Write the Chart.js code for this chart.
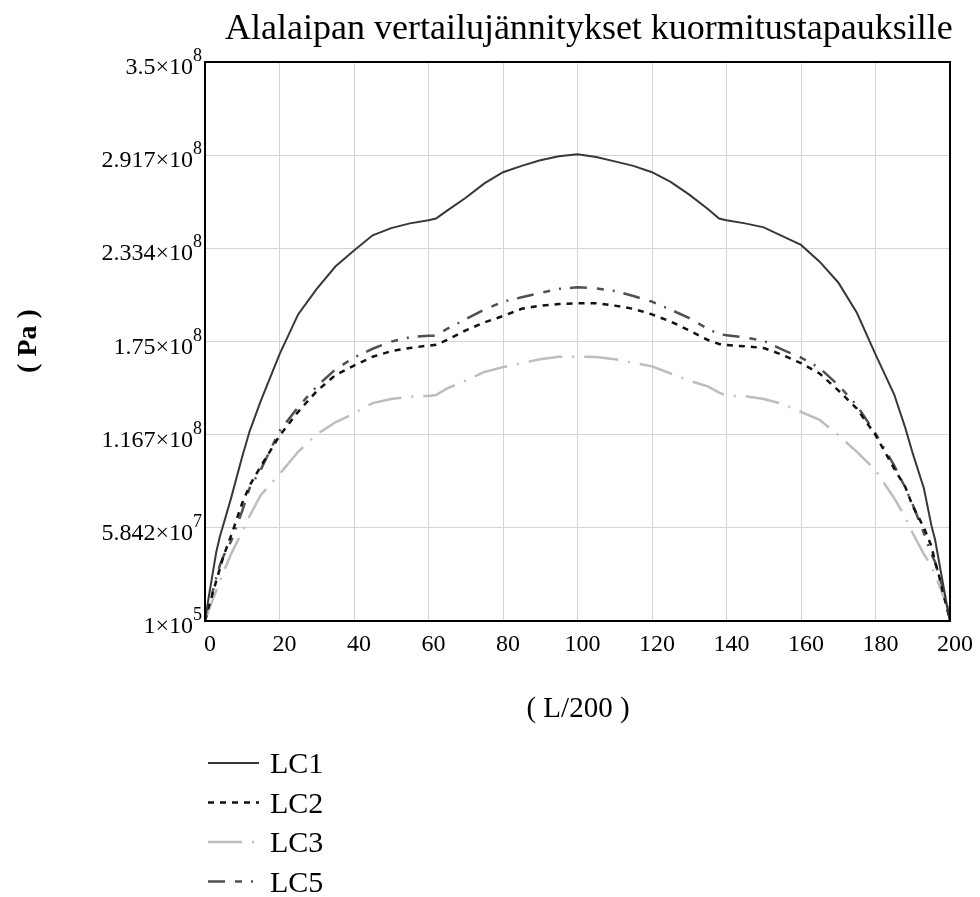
<!DOCTYPE html>
<html>
<head>
<meta charset="utf-8">
<script src="https://cdn.jsdelivr.net/npm/chart.js"></script>
<style>
  body { margin: 0; background: #fff; }
  #wrap { width: 980px; height: 897px; }
</style>
</head>
<body>
<div id="wrap"><canvas id="chart" width="980" height="897"></canvas></div>
<script>
// position along the beam, in L/200 steps
const xs = [0, 1, 2, 3, 4, 5, 7, 10, 12, 15, 20, 25, 30, 35, 40, 45, 50, 55, 60, 62,
  65, 70, 75, 80, 85, 90, 95, 100, 105, 110, 115, 120, 125, 130, 135, 138,
  140, 145, 150, 155, 160, 165, 170, 175, 180, 185, 188, 190, 193, 195, 196, 197, 198, 199, 200];

// von Mises stresses of the bottom flange, in 1e8 Pa
const lc1 = [0.001, 0.15, 0.29, 0.43, 0.53, 0.61, 0.77, 1.03, 1.19, 1.38, 1.67, 1.92, 2.08, 2.22, 2.32, 2.415, 2.46, 2.49, 2.51, 2.52,
  2.57, 2.65, 2.74, 2.81, 2.85, 2.885, 2.91, 2.923, 2.905, 2.878, 2.85, 2.81, 2.75, 2.67, 2.58, 2.52,
  2.51, 2.49, 2.465, 2.41, 2.355, 2.25, 2.12, 1.93, 1.67, 1.42, 1.21, 1.05, 0.83, 0.60, 0.51, 0.38, 0.25, 0.12, 0.001];
const lc2 = [0.001, 0.09, 0.17, 0.25, 0.33, 0.41, 0.535, 0.74, 0.85, 0.97, 1.16, 1.31, 1.44, 1.54, 1.60, 1.655, 1.69, 1.71, 1.725, 1.73,
  1.76, 1.82, 1.87, 1.91, 1.955, 1.975, 1.985, 1.99, 1.99, 1.975, 1.955, 1.92, 1.875, 1.82, 1.76, 1.735,
  1.728, 1.72, 1.71, 1.667, 1.615, 1.55, 1.445, 1.33, 1.165, 0.955, 0.84, 0.72, 0.585, 0.47, 0.37, 0.29, 0.19, 0.10, 0.001];
const lc3 = [0.001, 0.07, 0.13, 0.19, 0.25, 0.31, 0.42, 0.56, 0.66, 0.79, 0.92, 1.06, 1.17, 1.245, 1.30, 1.365, 1.39, 1.405, 1.41, 1.415,
  1.457, 1.505, 1.56, 1.59, 1.615, 1.64, 1.655, 1.656, 1.653, 1.64, 1.617, 1.595, 1.55, 1.505, 1.47, 1.43,
  1.412, 1.408, 1.39, 1.36, 1.31, 1.26, 1.165, 1.06, 0.945, 0.77, 0.65, 0.55, 0.42, 0.345, 0.29, 0.23, 0.17, 0.11, 0.001];
const lc5 = [0.001, 0.09, 0.18, 0.27, 0.35, 0.41, 0.50, 0.69, 0.835, 0.95, 1.19, 1.34, 1.47, 1.575, 1.65, 1.705, 1.75, 1.777, 1.787, 1.787,
  1.83, 1.89, 1.95, 2.0, 2.027, 2.055, 2.08, 2.09, 2.083, 2.067, 2.035, 2.0, 1.95, 1.897, 1.83, 1.797,
  1.79, 1.775, 1.755, 1.70, 1.65, 1.585, 1.478, 1.35, 1.175, 0.975, 0.835, 0.73, 0.55, 0.42, 0.37, 0.29, 0.21, 0.13, 0.001];

// y axis ticks (Pa) and their labels as [mantissa, exponent]
const yTicks = [1e5, 5.842e7, 1.167e8, 1.75e8, 2.334e8, 2.917e8, 3.5e8];
const yTickLabels = [['1', '5'], ['5.842', '7'], ['1.167', '8'], ['1.75', '8'], ['2.334', '8'], ['2.917', '8'], ['3.5', '8']];

const seriesNames = ['LC1', 'LC2', 'LC3', 'LC5'];
const titleText = 'Alalaipan vertailujännitykset kuormitustapauksille';

const SERIF = '"Liberation Serif", "Times New Roman", serif';
const toPoints = vals => xs.map((x, i) => ({ x: x, y: vals[i] * 1e8 }));

const mathcadText = {
  id: 'mathcadText',
  afterDraw(chart) {
    const ctx = chart.ctx;
    const a = chart.chartArea;
    const y = chart.scales.y;
    ctx.save();

    // plot frame
    ctx.strokeStyle = '#000';
    ctx.lineWidth = 2;
    ctx.setLineDash([]);
    ctx.strokeRect(a.left, a.top, a.right - a.left, a.bottom - a.top);

    ctx.fillStyle = '#000';
    ctx.textBaseline = 'alphabetic';

    // y tick labels with superscript exponent
    yTicks.forEach((v, i) => {
      const py = y.getPixelForValue(v);
      const [m, e] = yTickLabels[i];
      ctx.textAlign = 'right';
      ctx.font = '18px ' + SERIF;
      const ew = ctx.measureText(e).width;
      ctx.fillText(e, a.left - 3, py - 1);
      ctx.font = '24px ' + SERIF;
      ctx.fillText(m + '\u00d710', a.left - 3 - ew, py + 12);
    });

    // title
    ctx.textAlign = 'left';
    ctx.font = '36px ' + SERIF;
    ctx.fillText(titleText, 225, 39);

    // axis titles
    ctx.textAlign = 'center';
    ctx.font = '29px ' + SERIF;
    ctx.fillText('( L/200 )', 578, 717);

    ctx.save();
    ctx.translate(36, 341);
    ctx.rotate(-Math.PI / 2);
    ctx.font = 'bold 28px ' + SERIF;
    ctx.fillText('( Pa )', 0, 0);
    ctx.restore();

    // legend
    chart.data.datasets.forEach((ds, i) => {
      const ly = 763 + i * 39.5;
      ctx.strokeStyle = ds.borderColor;
      ctx.lineWidth = ds.borderWidth;
      ctx.setLineDash(ds.borderDash || []);
      ctx.beginPath();
      ctx.moveTo(208, ly);
      ctx.lineTo(259, ly);
      ctx.stroke();
      ctx.setLineDash([]);
      ctx.textAlign = 'left';
      ctx.font = '30px ' + SERIF;
      ctx.fillText(ds.label, 270, ly + 10);
    });

    ctx.restore();
  }
};

new Chart(document.getElementById('chart'), {
  type: 'line',
  data: {
    datasets: [
      { label: seriesNames[0], data: toPoints(lc1), borderColor: '#383838', borderWidth: 2, borderDash: [] },
      { label: seriesNames[1], data: toPoints(lc2), borderColor: '#111111', borderWidth: 2.5, borderDash: [6, 6] },
      { label: seriesNames[2], data: toPoints(lc3), borderColor: '#bdbdbd', borderWidth: 2.5, borderDash: [34, 10, 2, 10] },
      { label: seriesNames[3], data: toPoints(lc5), borderColor: '#505050', borderWidth: 2.5, borderDash: [17, 10, 7, 9, 2, 9] }
    ]
  },
  options: {
    responsive: false,
    animation: false,
    layout: { padding: { top: 62, right: 30, bottom: 236, left: 0 } },
    elements: { point: { radius: 0 }, line: { tension: 0, fill: false } },
    plugins: { legend: { display: false }, title: { display: false }, tooltip: { enabled: false } },
    scales: {
      x: {
        type: 'linear',
        min: 0,
        max: 200,
        border: { display: false },
        grid: { color: '#d4d4d4', lineWidth: 1, drawTicks: false },
        ticks: {
          stepSize: 20,
          autoSkip: false,
          maxRotation: 0,
          labelOffset: 5,
          padding: 9,
          color: '#000',
          font: { family: SERIF, size: 24 }
        },
        afterFit: s => { s.height = 40; }
      },
      y: {
        type: 'linear',
        min: 1e5,
        max: 3.5e8,
        border: { display: false },
        grid: { color: '#d4d4d4', lineWidth: 1, drawTicks: false },
        ticks: { display: false },
        afterBuildTicks: s => { s.ticks = yTicks.map(v => ({ value: v })); },
        afterFit: s => { s.width = 205; }
      }
    }
  },
  plugins: [mathcadText]
});
</script>
</body>
</html>
